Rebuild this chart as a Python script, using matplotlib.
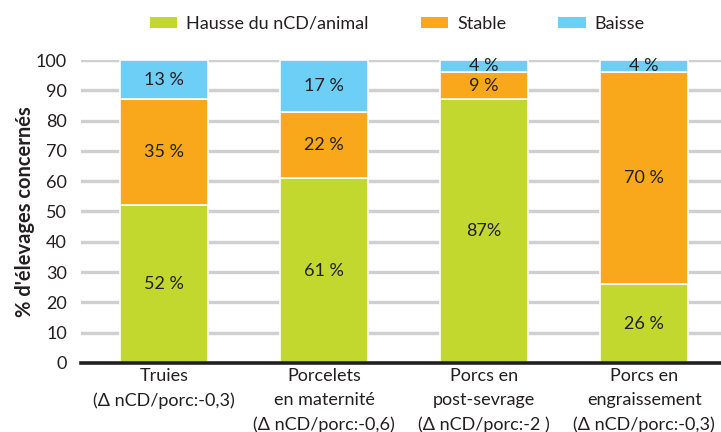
import matplotlib
matplotlib.use("Agg")
import matplotlib.pyplot as plt
import numpy as np
from matplotlib.patches import Patch

categories = ["Truies\n(Δ nCD/porc:-0,3)", "Porcelets\nen maternité\n(Δ nCD/porc:-0,6)",
              "Porcs en\npost-sevrage\n(Δ nCD/porc:-2 )", "Porcs en\nengraissement\n(Δ nCD/porc:-0,3)"]
hausse = [52, 61, 87, 26]
stable = [35, 22, 9, 70]
baisse = [13, 17, 4, 4]
hausse_lbl = ["52 %", "61 %", "87%", "26 %"]
stable_lbl = ["35 %", "22 %", "9 %", "70 %"]
baisse_lbl = ["13 %", "17 %", "4 %", "4 %"]
series_names = ["Hausse du nCD/animal", "Stable", "Baisse"]
yticks = [0, 10, 20, 30, 40, 50, 60, 70, 80, 90, 100]

colors = ["#C2D82E", "#F9A81B", "#6DCFF6"]
txt = "#231F20"
plt.rcParams['font.family'] = ['Lato', 'DejaVu Sans']
fs = 13

fig = plt.figure(figsize=(7.21, 4.32), dpi=100)
ax = fig.add_axes([0.112, 0.160, 0.888, 0.701])
x = np.arange(len(categories))
w = 0.55
bottom = np.zeros(len(x))
for vals, lbls, col in zip([hausse, stable, baisse], [hausse_lbl, stable_lbl, baisse_lbl], colors):
    ax.bar(x + 0.02, vals, w, bottom=bottom, color=col, edgecolor="white", linewidth=1.2, zorder=3)
    for xi, b, v, l in zip(x, bottom, vals, lbls):
        ax.text(xi + 0.02, b + v / 2, l, ha="center", va="center", fontsize=fs, color=txt, zorder=4)
    bottom = bottom + np.array(vals)

ax.set_xlim(-0.5, 3.5)
ax.set_ylim(0, 100)
ax.set_yticks(yticks)
ax.yaxis.grid(True, color="#CFCFCF", linewidth=2.4, zorder=0)
ax.set_axisbelow(True)
for s in ["top", "right", "left"]:
    ax.spines[s].set_visible(False)
ax.spines["bottom"].set_color(txt)
ax.spines["bottom"].set_linewidth(2.6)
ax.spines["bottom"].set_zorder(5)
ax.tick_params(axis="y", length=0, pad=10, labelsize=fs, labelcolor=txt)
ax.tick_params(axis="x", length=0, pad=4, labelsize=fs, labelcolor=txt)
ax.set_xticks(x + 0.02)
ax.set_xticklabels(categories, linespacing=1.6, va="top")
ax.set_ylabel("% d'élevages concernés", fontsize=14.5, fontweight="bold", color=txt, labelpad=0.5)

handles = [Patch(facecolor=c, edgecolor="none") for c in colors]
fig.legend(handles, series_names, loc="center", bbox_to_anchor=(0.551, 0.945), ncol=3,
           frameon=False, fontsize=fs, handlelength=1.5, handleheight=0.6,
           columnspacing=2.9, handletextpad=0.5, labelcolor=txt)

fig.savefig("out.png", dpi=100)
